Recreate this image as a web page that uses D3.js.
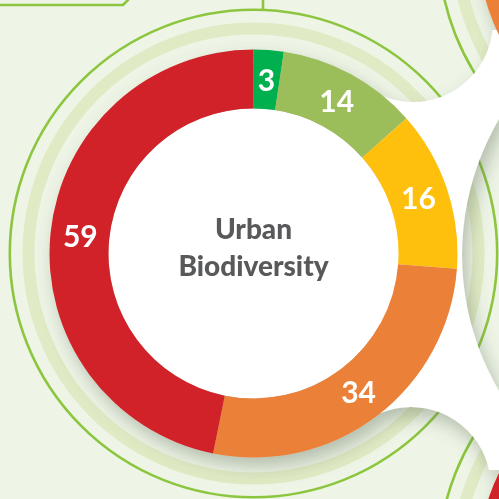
<!DOCTYPE html>
<html>
<head>
<meta charset="utf-8">
<script src="https://cdn.jsdelivr.net/npm/d3@7"></script>
<style>
  html, body { margin: 0; padding: 0; background: #fff; }
  svg { display: block; }
</style>
</head>
<body>
<svg id="chart" width="499" height="499"></svg>
<script>
// chart data
const categories = ["Very good", "Good", "Fair", "Poor", "Very poor"];
const values = [3, 14, 16, 34, 59];
const colors = ["#00b050", "#9bbd5a", "#fec010", "#eb8037", "#d1222b"];
const titleLines = ["Urban", "Biodiversity"];

const W = 499, H = 499;
const cx = 253.5, cy = 253.5;
const outerR = 204, innerR = 145, labelR = 174;

const svg = d3.select("#chart");
const defs = svg.append("defs");

// soft shadow used by the raised layer (donuts + white gap shape)
defs.append("filter")
  .attr("id", "shadow")
  .attr("filterUnits", "userSpaceOnUse")
  .attr("x", -100).attr("y", -100).attr("width", 700).attr("height", 700)
  .append("feDropShadow")
  .attr("dx", 5).attr("dy", 9)
  .attr("stdDeviation", 9)
  .attr("flood-color", "#5d6b55")
  .attr("flood-opacity", 0.4);

// the white gap between neighbouring discs: holes are the neighbouring discs
const holes = [
  {x: 413, y: 22, r: 80},
  {x: 730, y: 255, r: 268},
  {x: 411, y: 487, r: 80}
];
const mask = defs.append("mask").attr("id", "gapMask")
  .attr("maskUnits", "userSpaceOnUse")
  .attr("x", 0).attr("y", 0).attr("width", W).attr("height", H);
mask.append("rect").attr("width", W).attr("height", H).attr("fill", "#fff");
mask.selectAll("circle").data(holes).enter().append("circle")
  .attr("cx", d => d.x).attr("cy", d => d.y).attr("r", d => d.r)
  .attr("fill", "#000");

// background
svg.append("rect").attr("width", W).attr("height", H).attr("fill", "#eef5e7");

// ring decorations around this chart and its neighbours
const centers = [
  {x: cx, y: cy},
  {x: 682, y: -55},
  {x: 682, y: 563}
];
const rings = svg.append("g");
centers.forEach(c => {
  rings.append("circle")
    .attr("cx", c.x).attr("cy", c.y).attr("r", 225)
    .attr("fill", "none").attr("stroke", "#e0ebc5").attr("stroke-width", 12);
  rings.append("circle")
    .attr("cx", c.x).attr("cy", c.y).attr("r", 243.7)
    .attr("fill", "none").attr("stroke", "#8cc63f").attr("stroke-width", 2.6);
});

// connector lines
const connectors = svg.append("g")
  .attr("fill", "none").attr("stroke", "#8cc63f").attr("stroke-width", 2.6);
connectors.append("polyline").attr("points", "-5,5 123,5 129,-1");
connectors.append("line").attr("x1", 263).attr("y1", -2).attr("x2", 263).attr("y2", 10);

// raised layer
const raised = svg.append("g").attr("filter", "url(#shadow)");

raised.append("rect")
  .attr("x", 380).attr("y", 30).attr("width", 140).attr("height", 440)
  .attr("fill", "#fff")
  .attr("mask", "url(#gapMask)");

// neighbouring charts, only a sliver shows
raised.append("circle").attr("cx", 682).attr("cy", -55).attr("r", outerR).attr("fill", "#eb8037");
raised.append("circle").attr("cx", 682).attr("cy", 563).attr("r", outerR).attr("fill", "#d1222b");

const g = raised.append("g").attr("transform", `translate(${cx},${cy})`);

g.append("circle").attr("r", innerR).attr("fill", "#fff");

const pie = d3.pie().sort(null).value(d => d);
const arcs = pie(values);

const arc = d3.arc().innerRadius(innerR).outerRadius(outerR);
const labelArc = d3.arc().innerRadius(labelR).outerRadius(labelR);

g.selectAll("path.slice")
  .data(arcs).enter()
  .append("path")
  .attr("class", "slice")
  .attr("d", arc)
  .attr("fill", (d, i) => colors[i]);

const labels = svg.append("g").attr("transform", `translate(${cx},${cy})`);

labels.selectAll("text.val")
  .data(arcs).enter()
  .append("text")
  .attr("class", "val")
  .attr("transform", d => `translate(${labelArc.centroid(d)})`)
  .attr("text-anchor", "middle")
  .attr("dy", "0.36em")
  .style("font-family", "Lato, 'Open Sans', sans-serif")
  .style("font-weight", 700)
  .style("font-size", "30px")
  .attr("fill", "#fff")
  .text(d => d.data);

labels.selectAll("text.title")
  .data(titleLines).enter()
  .append("text")
  .attr("class", "title")
  .attr("text-anchor", "middle")
  .attr("y", (d, i) => -15 + i * 37)
  .style("font-family", "Lato, 'Open Sans', sans-serif")
  .style("font-weight", 900)
  .style("font-size", "28px")
  .attr("fill", "#58595b")
  .text(d => d);
</script>
</body>
</html>
